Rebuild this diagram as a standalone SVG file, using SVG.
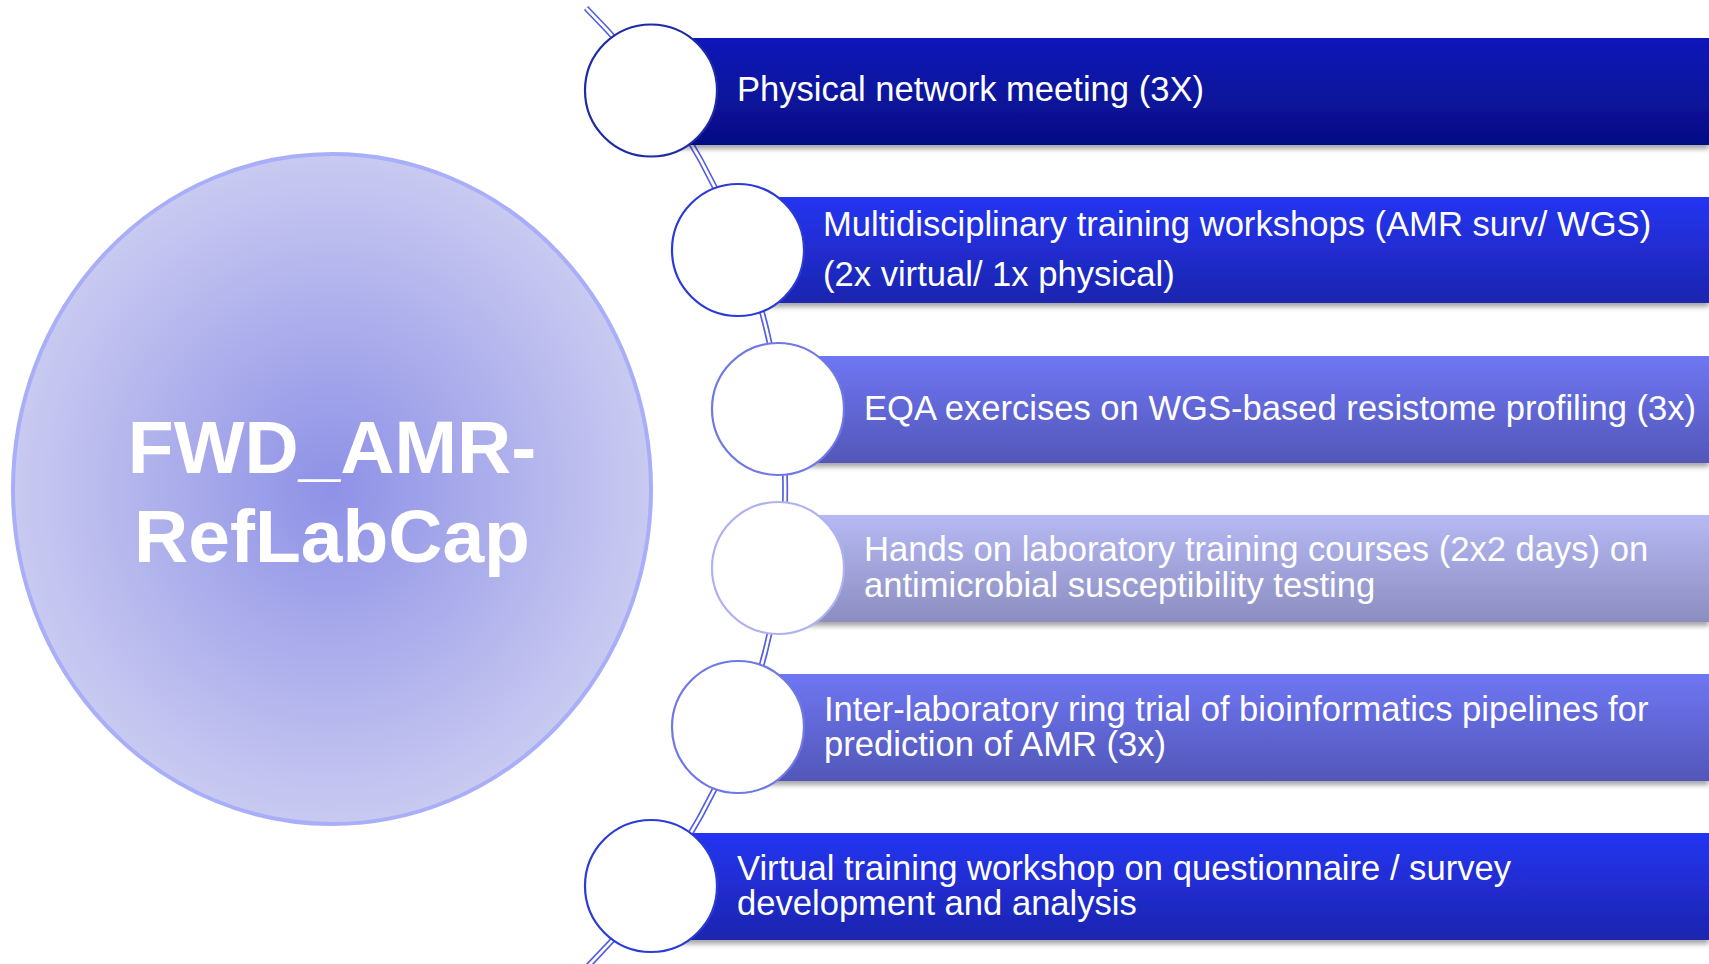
<svg xmlns="http://www.w3.org/2000/svg" width="1709" height="964" viewBox="0 0 1709 964">
<defs>
<style>
.t{font-family:"Liberation Sans",Arial,sans-serif;font-size:34.6px;fill:#ffffff}
.h{font-family:"Liberation Sans",Arial,sans-serif;font-size:75px;font-weight:bold;fill:#ffffff}
.c{fill:#ffffff;stroke-width:2.2}
</style>
<linearGradient id="g1" x1="0" y1="0" x2="0" y2="1"><stop offset="0" stop-color="#0A19B9"/><stop offset="1" stop-color="#060E84"/></linearGradient>
<linearGradient id="g2" x1="0" y1="0" x2="0" y2="1"><stop offset="0" stop-color="#2534F2"/><stop offset="1" stop-color="#1C25AE"/></linearGradient>
<linearGradient id="g3" x1="0" y1="0" x2="0" y2="1"><stop offset="0" stop-color="#6F76F3"/><stop offset="1" stop-color="#5257B8"/></linearGradient>
<linearGradient id="g4" x1="0" y1="0" x2="0" y2="1"><stop offset="0" stop-color="#B6B9F3"/><stop offset="1" stop-color="#8C8EC1"/></linearGradient>
<radialGradient id="rg" cx="0.5" cy="0.5" r="0.5"><stop offset="0" stop-color="#8E91E6"/><stop offset="1" stop-color="#C9CAF1"/></radialGradient>
<filter id="sh" x="-5%" y="-10%" width="110%" height="130%"><feDropShadow dx="0" dy="4" stdDeviation="2.5" flood-color="#000" flood-opacity="0.35"/></filter>
</defs>
<rect width="1709" height="964" fill="#ffffff"/>

<g id="hub">
<ellipse cx="332" cy="489" rx="319" ry="335" fill="url(#rg)" stroke="#A8AEF8" stroke-width="4"/>
<text class="h" x="332" y="473" text-anchor="middle">FWD_AMR-</text>
<text class="h" x="332" y="562" text-anchor="middle">RefLabCap</text>
</g>

<g id="connectors">
<path d="M 586 8 A 678 678 0 0 1 586 968" fill="none" stroke="#5560E0" stroke-width="6"/>
<path d="M 586 8 A 678 678 0 0 1 586 968" fill="none" stroke="#ffffff" stroke-width="2.6"/>
</g>

<g id="item1">
<rect x="651" y="38" width="1058" height="107" fill="url(#g1)" filter="url(#sh)"/>
<circle class="c" cx="651" cy="90.5" r="66" stroke="#1E2AA6"/>
<text class="t" x="737" y="101">Physical network meeting (3X)</text>
</g>

<g id="item2">
<rect x="738" y="197" width="971" height="106" fill="url(#g2)" filter="url(#sh)"/>
<circle class="c" cx="738" cy="250" r="66" stroke="#2B3BD6"/>
<text class="t" x="823" y="236">Multidisciplinary training workshops (AMR surv/ WGS)</text>
<text class="t" x="823" y="286">(2x virtual/ 1x physical)</text>
</g>

<g id="item3">
<rect x="778" y="356" width="931" height="107" fill="url(#g3)" filter="url(#sh)"/>
<circle class="c" cx="778" cy="409" r="66" stroke="#7078E6"/>
<text class="t" x="864" y="420">EQA exercises on WGS-based resistome profiling (3x)</text>
</g>

<g id="item4">
<rect x="778" y="515" width="931" height="107" fill="url(#g4)" filter="url(#sh)"/>
<circle class="c" cx="778" cy="568" r="66" stroke="#AEB2F0"/>
<text class="t" x="864" y="561">Hands on laboratory training courses (2x2 days) on</text>
<text class="t" x="864" y="597">antimicrobial susceptibility testing</text>
</g>

<g id="item5">
<rect x="738" y="674" width="971" height="107" fill="url(#g3)" filter="url(#sh)"/>
<circle class="c" cx="738" cy="727" r="66" stroke="#7078E6"/>
<text class="t" x="824" y="721">Inter-laboratory ring trial of bioinformatics pipelines for</text>
<text class="t" x="824" y="756">prediction of AMR (3x)</text>
</g>

<g id="item6">
<rect x="651" y="833" width="1058" height="107" fill="url(#g2)" filter="url(#sh)"/>
<circle class="c" cx="651" cy="886" r="66" stroke="#2B3BD6"/>
<text class="t" x="737" y="880">Virtual training workshop on questionnaire / survey</text>
<text class="t" x="737" y="915">development and analysis</text>
</g>
</svg>
